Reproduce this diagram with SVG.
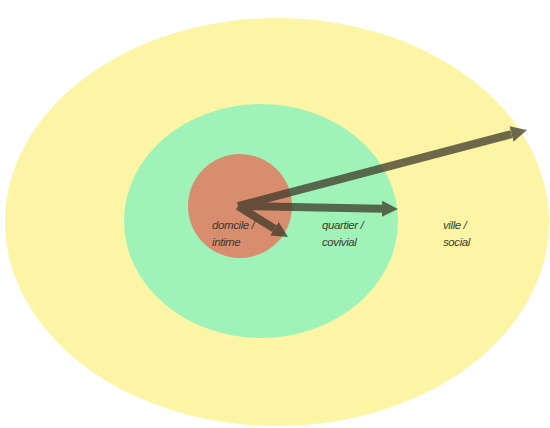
<svg xmlns="http://www.w3.org/2000/svg" width="550" height="428" viewBox="0 0 550 428">
<defs>
<style>
.lbl{font-family:"Liberation Sans",Arial,sans-serif;font-size:11.5px;font-style:italic;fill:#3a3a30;letter-spacing:-0.4px}
.arr{stroke:#3d3a28;stroke-width:8;fill:none;marker-end:url(#ah)}
</style>
<marker id="ah" viewBox="0 0 16 16" refX="0" refY="8" markerWidth="16" markerHeight="16" markerUnits="userSpaceOnUse" orient="auto">
<path d="M0,0 L16,8 L0,16 z" fill="#3d3a28"/>
</marker>
</defs>
<rect width="550" height="428" fill="#ffffff"/>
<g id="ville">
<ellipse cx="277" cy="222" rx="272" ry="204" fill="#fdf5a6"/>
<text class="lbl" x="443" y="229">ville /</text>
<text class="lbl" x="443" y="246">social</text>
</g>
<g id="quartier">
<ellipse cx="261" cy="221" rx="137" ry="117" fill="#a0f3b8"/>
<text class="lbl" x="322" y="229">quartier /</text>
<text class="lbl" x="322" y="246">covivial</text>
</g>
<g id="domicile">
<circle cx="240" cy="206" r="52" fill="#d98d6f"/>
<text class="lbl" x="212" y="229">domcile /</text>
<text class="lbl" x="212" y="246">intime</text>
</g>
<g id="connectors" opacity="0.75">
<line class="arr" x1="238" y1="206" x2="511.5" y2="134.1"/>
<line class="arr" x1="238" y1="206" x2="382" y2="208.7"/>
<line class="arr" x1="238" y1="206" x2="274.4" y2="228.6"/>
</g>
</svg>
